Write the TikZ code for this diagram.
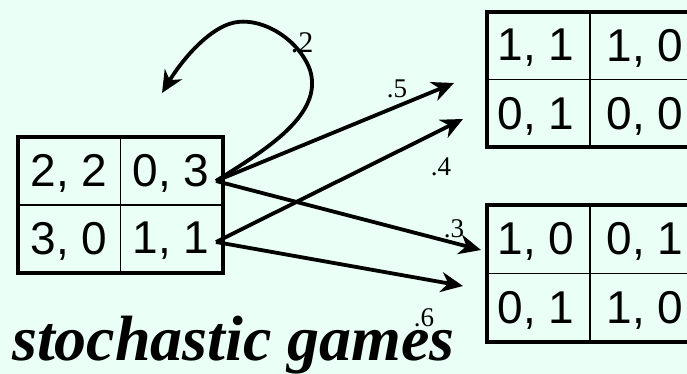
\documentclass[tikz,border=0pt]{standalone}
\usepackage{fontspec}
\setmainfont{Liberation Serif}
\newfontfamily\arialfont{Liberation Sans}
\usetikzlibrary{arrows.meta}
\definecolor{bgmint}{RGB}{234,255,245}
\begin{document}
\begin{tikzpicture}[x=1pt,y=-1pt,
  outerbox/.style={draw=black, line width=4pt},
  innerline/.style={draw=black, line width=1.8pt},
  celltext/.style={font=\arialfont\fontsize{46}{46}\selectfont, inner sep=0pt, anchor=center},
  prob/.style={font=\fontsize{27}{27}\selectfont, inner sep=0pt, anchor=center},
  trans/.style={draw=black, line width=3.8pt, -{Stealth[length=22pt,width=20pt,inset=7pt]}},
  titletext/.style={font=\bfseries\itshape\fontsize{64}{64}\selectfont, inner sep=0pt, anchor=base west}
]
\fill[bgmint] (0,0) rectangle (687,374);
\useasboundingbox (0,0) rectangle (687,374);

% left game
\draw[innerline] (120.5,137) -- (120.5,273) (18,205) -- (223,205);
\draw[outerbox] (18,137) rectangle (223,273);
\node[celltext] (l00) at (69,173) {2, 2};
\node[celltext] (l01) at (171,173) {0, 3};
\node[celltext] (l10) at (69,241) {3, 0};
\node[celltext] (l11) at (171,241) {1, 1};

% top-right game
\draw[innerline] (590,12) -- (590,147) (487,79.5) -- (700,79.5);
\draw[outerbox] (487,12) rectangle (697,147);
\node[celltext] (a00) at (536,48) {1, 1};
\node[celltext] (a01) at (645,48) {1, 0};
\node[celltext] (a10) at (536,116) {0, 1};
\node[celltext] (a11) at (645,116) {0, 0};

% bottom-right game
\draw[innerline] (590,205) -- (590,342) (487,273.5) -- (700,273.5);
\draw[outerbox] (487,205) rectangle (697,342);
\node[celltext] (b00) at (536,241) {1, 0};
\node[celltext] (b01) at (645,241) {0, 1};
\node[celltext] (b10) at (536,310) {0, 1};
\node[celltext] (b11) at (645,310) {1, 0};

% start and end points of transitions
\coordinate (s03) at (216,181);
\coordinate (s11) at (216,242);
\coordinate (t5) at (454,83);
\coordinate (t4) at (463,119);
\coordinate (t3) at (481,250);
\coordinate (t6) at (463,286);
\coordinate (tloop) at (162,93);

\draw[trans] (s03) -- (t5);
\draw[trans] (s11) -- (t4);
\draw[trans] (s03) -- (t3);
\draw[trans] (s11) -- (t6);
\draw[trans] (s03) .. controls (265,150) and (324,115) .. (310,70)
  .. controls (298,37) and (257,14) .. (229,24)
  .. controls (206,32) and (182,60) .. (tloop);

% probabilities
\node[prob, font=\fontsize{30}{30}\selectfont] (p2) at (302,43) {.2};
\node[prob] (p5) at (397,89) {.5};
\node[prob] (p4) at (441,167) {.4};
\node[prob] (p3) at (454,229) {.3};
\node[prob] (p6) at (424,318) {.6};

\node[titletext] (title) at (12,360) {stochastic games};
\end{tikzpicture}
\end{document}
